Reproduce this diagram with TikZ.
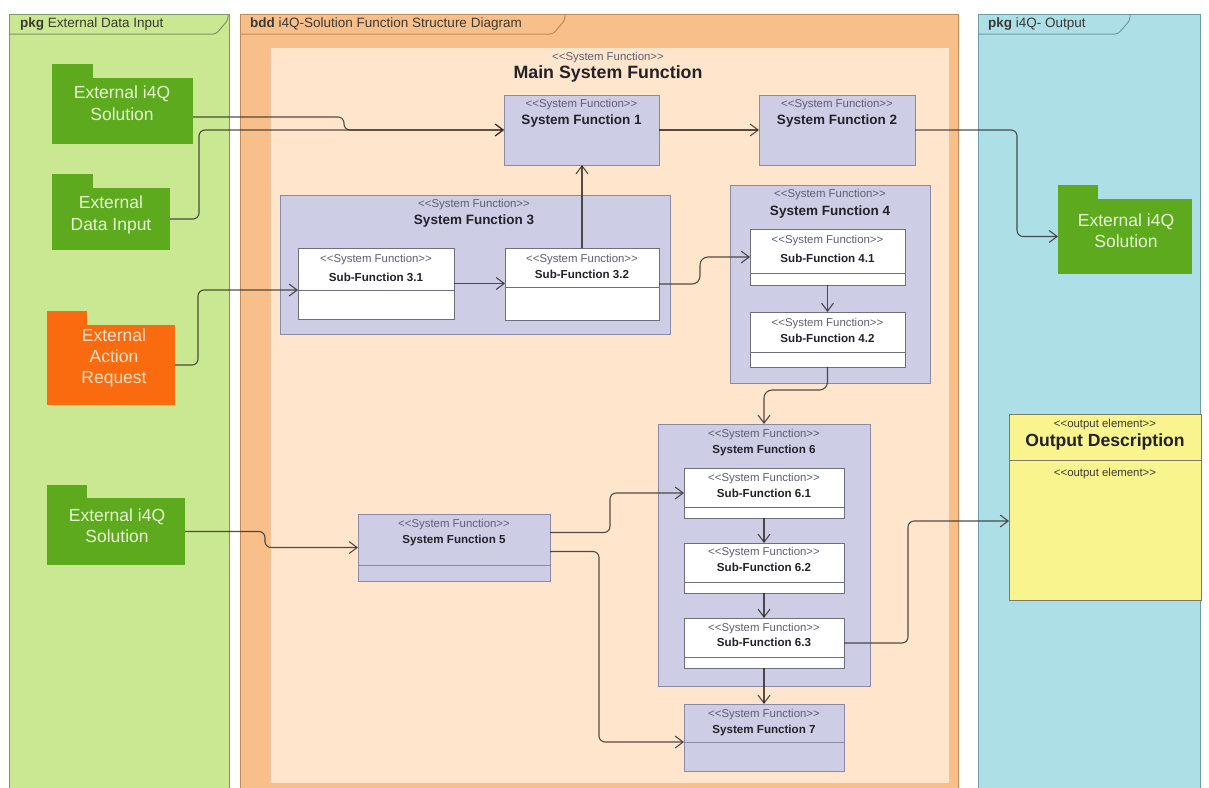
\documentclass[tikz,border=0pt]{standalone}
\usepackage{fontspec}
\setmainfont{Liberation Sans}
\usetikzlibrary{arrows.meta}

\newcommand\myfs[2]{\fontsize{#1pt}{#2pt}\selectfont}
% guillemet-free stereotype brackets
\newcommand\stype[1]{<{}<#1>{}>}

\definecolor{pkgLfill}{HTML}{CAE792}
\definecolor{pkgLline}{HTML}{7E9668}
\definecolor{bddfill}{HTML}{F9BF8B}
\definecolor{bddline}{HTML}{C48A58}
\definecolor{mainfill}{HTML}{FEE5CB}
\definecolor{mainline}{HTML}{EEC496}
\definecolor{pkgRfill}{HTML}{ADE0E6}
\definecolor{pkgRline}{HTML}{6E9CA2}
\definecolor{sffill}{HTML}{CDCDE6}
\definecolor{sfline}{HTML}{8A8AA6}
\definecolor{subline}{HTML}{6E6E80}
\definecolor{pkggreen}{HTML}{5DAA1F}
\definecolor{pkgorange}{HTML}{FA6A0E}
\definecolor{greentxt}{HTML}{E6F6D2}
\definecolor{orangetxt}{HTML}{FFE2CC}
\definecolor{outfill}{HTML}{F9F48E}
\definecolor{outline}{HTML}{7C7C62}
\definecolor{stereotxt}{HTML}{5E5E72}
\definecolor{nametxt}{HTML}{222228}
\definecolor{headtxt}{HTML}{3A3A32}
\definecolor{connc}{HTML}{2E2A26}

\begin{document}
\begin{tikzpicture}[x=1pt,y=-1pt,
  frame/.style={draw=#1, line width=1pt, inner sep=0pt, outer sep=0pt, anchor=north west},
  tabline/.style={draw=#1, line width=1pt, rounded corners=3pt},
  headtext/.style={font=\myfs{13.5}{15}, text=headtxt, inner sep=0pt, anchor=west},
  sfbox/.style={draw=sfline, fill=sffill, line width=1pt, inner sep=0pt, outer sep=0pt, anchor=north west},
  subbox/.style={draw=subline, fill=white, line width=1pt, inner sep=0pt, outer sep=0pt, anchor=north west},
  sepline/.style={draw=#1, line width=0.8pt},
  stereo/.style={font=\myfs{11.4}{13}, text=stereotxt, inner sep=0pt},
  bigname/.style={font=\bfseries\myfs{13.5}{15}, text=nametxt, inner sep=0pt},
  smallname/.style={font=\bfseries\myfs{11.6}{13}, text=nametxt, inner sep=0pt},
  pkgbody/.style={fill=#1, inner sep=0pt, outer sep=0pt, anchor=north west},
  pkgtext/.style={font=\myfs{17.5}{22}, text=#1, align=center, inner sep=0pt},
  conn/.style={draw=connc, draw opacity=0.82, line width=1.1pt, rounded corners=6pt,
    -{Straight Barb[length=8pt,width=12pt]}}
]
\useasboundingbox (0,0) rectangle (1209,787);
\fill[white] (0,0) rectangle (1209,787);

% ---------------- package frames ----------------
\node[frame=pkgLline, fill=pkgLfill, minimum width=220pt, minimum height=775pt] (pkgL) at (9.5,14) {};
\draw[tabline=pkgLline] (pkgL.north west |- 0,34) -- (216,34) -- (228,20) -- (228,14);
\node[headtext] (pkgLhead) at (20,24) {\textbf{pkg} External Data Input};

\node[frame=bddline, fill=bddfill, minimum width=718pt, minimum height=775pt] (bdd) at (240,14) {};
\draw[tabline=bddline] (bdd.north west |- 0,34) -- (553,34) -- (565,20) -- (565,14);
\node[headtext] (bddhead) at (250,24) {\textbf{bdd} i4Q-Solution Function Structure Diagram};

\node[frame=pkgRline, fill=pkgRfill, minimum width=222pt, minimum height=775pt] (pkgR) at (978,14) {};
\draw[tabline=pkgRline] (pkgR.north west |- 0,34) -- (1118,34) -- (1130,20) -- (1130,14);
\node[headtext] (pkgRhead) at (988,24) {\textbf{pkg} i4Q- Output};

% ---------------- main system function ----------------
\node[frame=mainline, fill=mainfill, minimum width=679pt, minimum height=736pt] (mainsf) at (270,47) {};
\node[stereo] (mainst) at (608,58) {\stype{System Function}};
\node[font=\bfseries\myfs{17.8}{20}, text=nametxt, inner sep=0pt] (mainname) at (608,74) {Main System Function};

% ---------------- external packages ----------------
\fill[pkggreen] (52,64) rectangle ++(41,14);
\node[pkgbody=pkggreen, minimum width=141pt, minimum height=66pt] (ext1) at (52,78) {};
\node[pkgtext=greentxt] (ext1t) at (122,103.5) {External i4Q\\Solution};

\fill[pkggreen] (52,174) rectangle ++(41,14);
\node[pkgbody=pkggreen, minimum width=118pt, minimum height=62pt] (ext2) at (52,188) {};
\node[pkgtext=greentxt] (ext2t) at (111,214.5) {External\\Data Input};

\fill[pkgorange] (47,311) rectangle ++(40,14);
\node[pkgbody=pkgorange, minimum width=128pt, minimum height=80pt] (ext3) at (47,325) {};
\node[pkgtext=orangetxt, font=\myfs{17.5}{21}] (ext3t) at (114,358) {External\\Action\\Request};

\fill[pkggreen] (47,485) rectangle ++(40,13);
\node[pkgbody=pkggreen, minimum width=138pt, minimum height=67pt] (ext4) at (47,498) {};
\node[pkgtext=greentxt, font=\myfs{17.5}{21}] (ext4t) at (117,525.5) {External i4Q\\Solution};

\fill[pkggreen] (1058,185) rectangle ++(40,14);
\node[pkgbody=pkggreen, minimum width=134pt, minimum height=75pt] (out1) at (1058,199) {};
\node[pkgtext=greentxt, font=\myfs{17.5}{21}] (out1t) at (1126,230.5) {External i4Q\\Solution};

% ---------------- system functions ----------------
\node[sfbox, minimum width=155pt, minimum height=70pt] (sf1) at (504,95) {};
\node[stereo] (sf1st) at (581.5,105) {\stype{System Function}};
\node[bigname] (sf1n) at (581.5,121) {System Function 1};

\node[sfbox, minimum width=156pt, minimum height=70pt] (sf2) at (759,95) {};
\node[stereo] (sf2st) at (837,105) {\stype{System Function}};
\node[bigname] (sf2n) at (837,121) {System Function 2};

\node[sfbox, minimum width=390pt, minimum height=139pt] (sf3) at (280,195) {};
\node[stereo] (sf3st) at (474,205) {\stype{System Function}};
\node[bigname] (sf3n) at (474,221) {System Function 3};

\node[subbox, minimum width=156pt, minimum height=71pt] (sub31) at (298,248) {};
\draw[sepline=subline] (sub31.west |- 0,290) -- (sub31.east |- 0,290);
\node[stereo] (sub31st) at (376,260) {\stype{System Function}};
\node[smallname] (sub31n) at (376,277) {Sub-Function 3.1};

\node[subbox, minimum width=154pt, minimum height=72pt] (sub32) at (505,248) {};
\draw[sepline=subline] (sub32.west |- 0,287) -- (sub32.east |- 0,287);
\node[stereo] (sub32st) at (582,260) {\stype{System Function}};
\node[smallname] (sub32n) at (582,274.5) {Sub-Function 3.2};

\node[sfbox, minimum width=200pt, minimum height=198pt] (sf4) at (730,185) {};
\node[stereo] (sf4st) at (830,195) {\stype{System Function}};
\node[bigname] (sf4n) at (830,212) {System Function 4};

\node[subbox, minimum width=155pt, minimum height=56pt] (sub41) at (750,229) {};
\draw[sepline=subline] (sub41.west |- 0,273) -- (sub41.east |- 0,273);
\node[stereo] (sub41st) at (827.5,241) {\stype{System Function}};
\node[smallname] (sub41n) at (827.5,258) {Sub-Function 4.1};

\node[subbox, minimum width=155pt, minimum height=55pt] (sub42) at (750,312) {};
\draw[sepline=subline] (sub42.west |- 0,352) -- (sub42.east |- 0,352);
\node[stereo] (sub42st) at (827.5,324) {\stype{System Function}};
\node[smallname] (sub42n) at (827.5,338) {Sub-Function 4.2};

\node[sfbox, minimum width=192pt, minimum height=67pt] (sf5) at (358,514) {};
\draw[sepline=sfline] (sf5.west |- 0,565) -- (sf5.east |- 0,565);
\node[stereo] (sf5st) at (454,525) {\stype{System Function}};
\node[smallname] (sf5n) at (454,540) {System Function 5};

\node[sfbox, minimum width=212pt, minimum height=262pt] (sf6) at (658,424) {};
\node[stereo] (sf6st) at (764,435) {\stype{System Function}};
\node[smallname] (sf6n) at (764,450) {System Function 6};

\node[subbox, minimum width=160pt, minimum height=50pt] (sub61) at (684,468) {};
\draw[sepline=subline] (sub61.west |- 0,507) -- (sub61.east |- 0,507);
\node[stereo] (sub61st) at (764,479) {\stype{System Function}};
\node[smallname] (sub61n) at (764,493) {Sub-Function 6.1};

\node[subbox, minimum width=160pt, minimum height=50pt] (sub62) at (684,543) {};
\draw[sepline=subline] (sub62.west |- 0,582) -- (sub62.east |- 0,582);
\node[stereo] (sub62st) at (764,553) {\stype{System Function}};
\node[smallname] (sub62n) at (764,567) {Sub-Function 6.2};

\node[subbox, minimum width=160pt, minimum height=50pt] (sub63) at (684,618) {};
\draw[sepline=subline] (sub63.west |- 0,657) -- (sub63.east |- 0,657);
\node[stereo] (sub63st) at (764,629) {\stype{System Function}};
\node[smallname] (sub63n) at (764,642) {Sub-Function 6.3};

\node[sfbox, minimum width=160pt, minimum height=67pt] (sf7) at (684,704) {};
\draw[sepline=sfline] (sf7.west |- 0,742) -- (sf7.east |- 0,742);
\node[stereo] (sf7st) at (764,715) {\stype{System Function}};
\node[smallname] (sf7n) at (764,730) {System Function 7};

% ---------------- output element ----------------
\node[frame=outline, fill=outfill, minimum width=192pt, minimum height=186pt] (out2) at (1009,414) {};
\draw[sepline=outline] (out2.west |- 0,460) -- (out2.east |- 0,460);
\node[stereo, text=headtxt] (out2st) at (1105,425) {\stype{output element}};
\node[font=\bfseries\myfs{17.6}{20}, text=nametxt, inner sep=0pt] (out2n) at (1105,442) {Output Description};
\node[stereo, text=headtxt] (out2st2) at (1105,474) {\stype{output element}};

% ---------------- connectors ----------------
\draw[conn] ([yshift=-6pt]ext1.east) -- (344,117) -- (344,130) -- (sf1.west);
\draw[conn] (ext2.east) -- (199,219) -- (199,130) -- (sf1.west);
\draw[conn] (ext3.east) -- (198,365) -- (198,290) -- ([yshift=-6.5pt]sub31.west);
\draw[conn] (sub31.east) -- (sub32.west |- sub31.east);
\draw[conn] (sub32.north) -- (sub32.north |- sf1.south);
\draw[conn, rounded corners=8pt] (sub32.east) -- (700,284) -- (700,257) -- (sub41.west);
\draw[conn] (sf1.east) -- (sf2.west);
\draw[conn] (sf2.east) -- (1017,130) -- (1017,236.5) -- (out1.west);
\draw[conn] (sub41.south) -- (sub42.north);
\draw[conn, rounded corners=8pt] (sub42.south) -- (827.5,390) -- (764,390) -- (sf6.north);
\draw[conn] (ext4.east) -- (265,531.5) -- (265,547.5) -- (sf5.west);
\draw[conn] ([yshift=15pt]sf5.east) -- (610,532.5) -- (610,493) -- (sub61.west);
\draw[conn] ([yshift=-4pt]sf5.east) -- (599,551.5) -- (599,742) -- ([yshift=-4.5pt]sf7.west);
\draw[conn] (sub61.south) -- (sub62.north);
\draw[conn] (sub62.south) -- (sub63.north);
\draw[conn] (sub63.south) -- (sf7.north);
\draw[conn] (sub63.east) -- (908,643) -- (908,521) -- ([yshift=-14pt]out2.west);
\end{tikzpicture}
\end{document}
